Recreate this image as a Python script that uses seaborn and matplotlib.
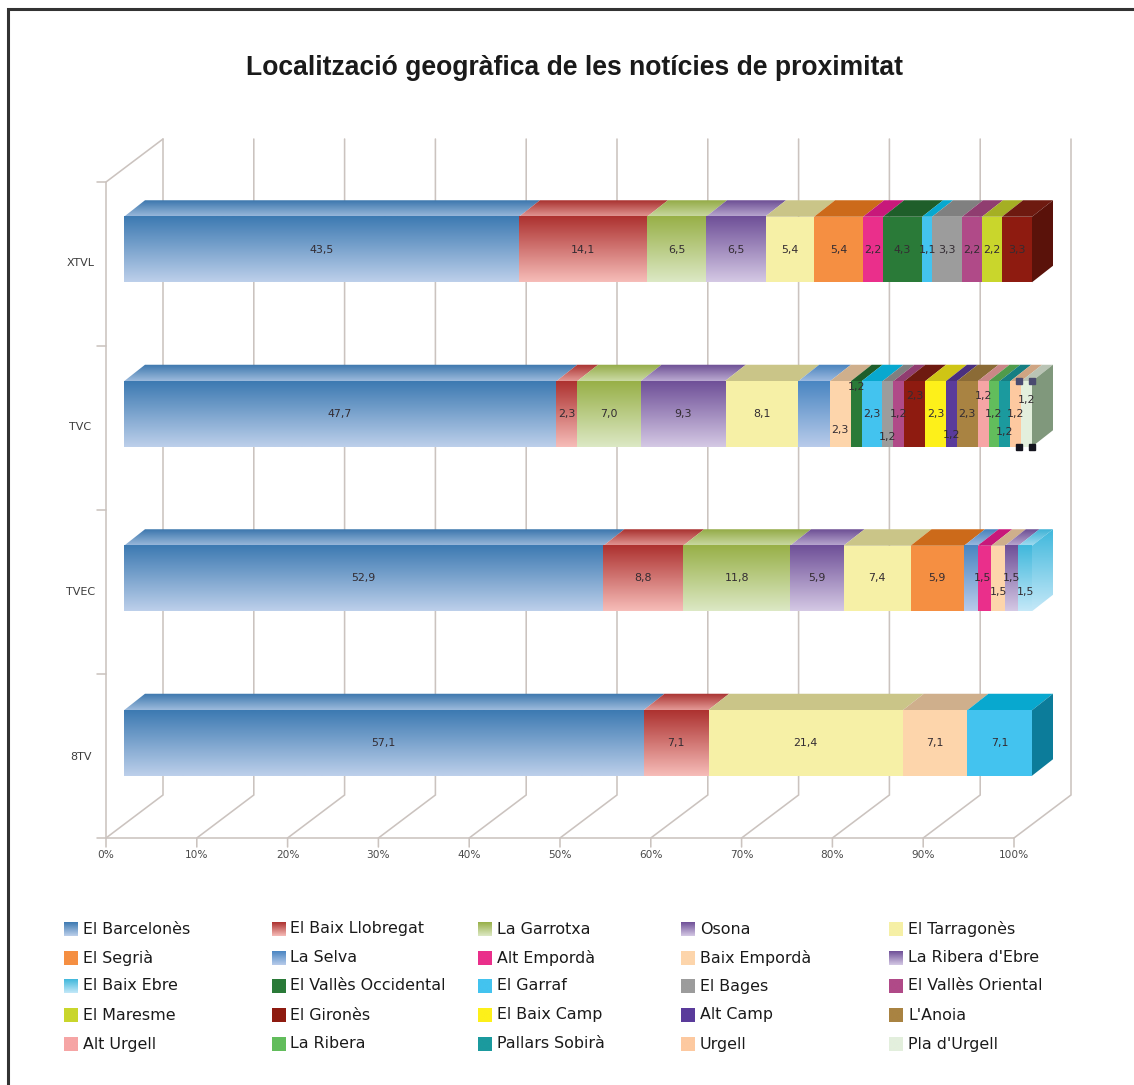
import numpy as np
import pandas as pd
import matplotlib
matplotlib.use("Agg")
import matplotlib.pyplot as plt
from matplotlib.colors import to_rgb
from matplotlib.patches import Polygon
import seaborn as sns

title = "Localització geogràfica de les notícies de proximitat"
channels = ["XTVL", "TVC", "TVEC", "8TV"]
comarques = ["El Barcelonès", "El Baix Llobregat", "La Garrotxa", "Osona", "El Tarragonès",
             "El Segrià", "La Selva", "Alt Empordà", "Baix Empordà", "La Ribera d'Ebre",
             "El Baix Ebre", "El Vallès Occidental", "El Garraf", "El Bages", "El Vallès Oriental",
             "El Maresme", "El Gironès", "El Baix Camp", "Alt Camp", "L'Anoia",
             "Alt Urgell", "La Ribera", "Pallars Sobirà", "Urgell", "Pla d'Urgell"]

xtvl_names = ["El Barcelonès", "El Baix Llobregat", "La Garrotxa", "Osona", "El Tarragonès", "El Segrià",
              "Alt Empordà", "El Vallès Occidental", "El Garraf", "El Bages", "El Vallès Oriental",
              "El Maresme", "El Gironès"]
xtvl_values = [43.5, 14.1, 6.5, 6.5, 5.4, 5.4, 2.2, 4.3, 1.1, 3.3, 2.2, 2.2, 3.3]

tvc_names = ["El Barcelonès", "El Baix Llobregat", "La Garrotxa", "Osona", "El Tarragonès", "La Selva",
             "Baix Empordà", "El Vallès Occidental", "El Garraf", "El Bages", "El Vallès Oriental",
             "El Gironès", "El Baix Camp", "Alt Camp", "L'Anoia", "Alt Urgell", "La Ribera",
             "Pallars Sobirà", "Urgell", "Pla d'Urgell"]
tvc_values = [47.7, 2.3, 7.0, 9.3, 8.1, 3.5, 2.3, 1.2, 2.3, 1.2, 1.2, 2.3, 2.3, 1.2, 2.3, 1.2, 1.2, 1.2, 1.2, 1.2]

tvec_names = ["El Barcelonès", "El Baix Llobregat", "La Garrotxa", "Osona", "El Tarragonès", "El Segrià",
              "La Selva", "Alt Empordà", "Baix Empordà", "La Ribera d'Ebre", "El Baix Ebre"]
tvec_values = [52.9, 8.8, 11.8, 5.9, 7.4, 5.9, 1.5, 1.5, 1.5, 1.5, 1.5]

b8tv_names = ["El Barcelonès", "El Baix Llobregat", "El Tarragonès", "Baix Empordà", "El Garraf"]
b8tv_values = [57.1, 7.1, 21.4, 7.1, 7.1]

unlabelled = [("TVC", "La Selva"), ("TVEC", "La Selva")]
label_shift = {  # pixels, staggered labels of the narrow segments
    ("TVC", "Baix Empordà"): 16, ("TVC", "El Vallès Occidental"): -27, ("TVC", "El Bages"): 23,
    ("TVC", "El Gironès"): -18, ("TVC", "Alt Camp"): 21, ("TVC", "Alt Urgell"): -18,
    ("TVC", "Pallars Sobirà"): 18, ("TVC", "Pla d'Urgell"): -14,
    ("TVEC", "Baix Empordà"): 14, ("TVEC", "El Baix Ebre"): 14,
}
label_dx = {("TVEC", "Alt Empordà"): -2}

# colour at the top of the face, colour at its bottom
colors = {
    "El Barcelonès": ("#3d7ab2", "#bccfea"), "El Baix Llobregat": ("#ad3230", "#f6bcb8"),
    "La Garrotxa": ("#98b048", "#dce8c4"), "Osona": ("#6f5098", "#d4c8e4"),
    "El Tarragonès": ("#f6f0a6", "#f6f0a6"), "El Segrià": ("#f58f42", "#f58f42"),
    "La Selva": ("#4a86c2", "#b8cbea"), "Alt Empordà": ("#ea2f8b", "#ea2f8b"),
    "Baix Empordà": ("#fdd5ab", "#fdd5ab"), "La Ribera d'Ebre": ("#6f5098", "#d4c8e4"),
    "El Baix Ebre": ("#40b8dc", "#c4e8f8"), "El Vallès Occidental": ("#2a7a38", "#2a7a38"),
    "El Garraf": ("#43c3ef", "#43c3ef"), "El Bages": ("#9c9c9c", "#9c9c9c"),
    "El Vallès Oriental": ("#b04a88", "#b04a88"), "El Maresme": ("#c9d62c", "#c9d62c"),
    "El Gironès": ("#8e1b10", "#8e1b10"), "El Baix Camp": ("#fdf01a", "#fdf01a"),
    "Alt Camp": ("#5a3b9b", "#5a3b9b"), "L'Anoia": ("#a98342", "#a98342"),
    "Alt Urgell": ("#f6a5a5", "#f6a5a5"), "La Ribera": ("#62bd5c", "#62bd5c"),
    "Pallars Sobirà": ("#1b9a9e", "#1b9a9e"), "Urgell": ("#fdc9a0", "#fdc9a0"),
    "Pla d'Urgell": ("#e3efdd", "#e3efdd"),
}
top_face = {"El Garraf": "#08a8cf", "El Segrià": "#cc6a1a", "Alt Empordà": "#c8187a",
            "El Vallès Occidental": "#1f5e2a", "El Gironès": "#6e1a10"}
side_face = {"El Garraf": "#0c7c9a", "El Gironès": "#5a120a", "Pla d'Urgell": "#80987c"}

rows = []
for ch, names, vals in zip(channels, [xtvl_names, tvc_names, tvec_names, b8tv_names],
                           [xtvl_values, tvc_values, tvec_values, b8tv_values]):
    c = np.cumsum(vals) / np.sum(vals) * 100  # a 100 % stacked chart
    for n, v, e in zip(names, vals, c):
        rows.append(dict(channel=ch, comarca=n, value=v, end=e))
df = pd.DataFrame(rows)
df["start"] = df.groupby("channel")["end"].shift(1).fillna(0)

sns.set_theme(style="white")
W, H = 1134, 1085
fig = plt.figure(figsize=(W / 100, H / 100), dpi=100, facecolor="white")
ax = fig.add_axes([0, 0, 1, 1])

# one percent = 9.08 px, channel spacing = 164.5 px; the axes cover the whole figure
PX_PCT, PX_CAT = 9.08, 164.5
X0, Y0 = 124.0, 249.5
def X(px): return (px - X0) / PX_PCT
def Y(py): return (py - Y0) / PX_CAT
xlim, ylim = (X(0), X(W)), (Y(H), Y(0))

BAR_H = 65.5 / PX_CAT
DX, DY = 21 / PX_PCT, 16.5 / PX_CAT

# front faces: cumulative widths, longest first so shorter ones lie on top
sns.barplot(data=df, y="channel", x="end", hue="comarca", order=channels,
            hue_order=comarques[::-1], palette={k: v[0] for k, v in colors.items()},
            dodge=False, width=BAR_H, orient="h", legend=False, ax=ax,
            saturation=1, linewidth=0, zorder=3)
ax.set_xlim(*xlim); ax.set_ylim(*ylim); ax.axis("off")
ax.autoscale(False)

def grad(c1, c2, extent, clip=None, z=3.2):
    a = np.linspace(to_rgb(c1), to_rgb(c2), 64)[:, None, :]
    im = ax.imshow(a, extent=extent, aspect="auto", origin="upper", interpolation="bilinear", zorder=z)
    if clip is not None:
        p = Polygon(clip, closed=True, fc="none", ec="none", zorder=z)
        ax.add_patch(p)
        im.set_clip_path(p)
    return im

def shade(c, f):
    return tuple(min(1, x * f) for x in to_rgb(c))

def mix(c1, c2, t):
    a, b = np.array(to_rgb(c1)), np.array(to_rgb(c2))
    return tuple(a + (b - a) * t)

# wall, floor and axis lines
GRID = "#cbc3bf"
LW = 1.15
for i, lab in enumerate(range(0, 101, 10)):
    fx = i * 10 * 9.08 + 106
    bx = fx + 57
    ax.plot([X(bx), X(bx), X(fx), X(fx)], [Y(139), Y(795), Y(838), Y(847)], color=GRID, lw=LW, zorder=1,
            solid_joinstyle="miter")
    ax.text(X(fx), Y(855), f"{lab}%", ha="center", va="center", fontsize=7.6, color="#4a4a4a",
            family="DejaVu Sans")
ax.plot([X(97), X(1014)], [Y(838), Y(838)], color=GRID, lw=LW, zorder=1)
ax.plot([X(106), X(106), X(163)], [Y(838), Y(182), Y(139)], color=GRID, lw=LW, zorder=1)
for py in [182, 346, 510, 674]:
    ax.plot([X(97), X(106)], [Y(py), Y(py)], color=GRID, lw=LW, zorder=1)

# gradients, depth faces, value labels
for i, ch in enumerate(channels):
    sub = df[df.channel == ch]
    top, bot = i - BAR_H / 2, i + BAR_H / 2
    for _, r in sub.iterrows():
        c1, c2 = colors[r.comarca]
        l, e = r.start, r.end
        if c1 != c2:
            grad(c1, c2, (l, e, bot, top))
        quad = [(l, top), (l + DX, top - DY), (e + DX, top - DY), (e, top)]
        if c1 != c2:
            grad(shade(c1, 0.97), mix(c1, c2, 0.75), (l, e + DX, top, top - DY), clip=quad, z=2.5)
        else:
            ax.add_patch(Polygon(quad, closed=True, fc=top_face.get(r.comarca, shade(c1, 0.82)),
                                 ec="none", zorder=2.5))
        key = (ch, r.comarca)
        if key not in unlabelled:
            ax.text((l + e) / 2 + label_dx.get(key, 0) / PX_PCT, i + label_shift.get(key, 0) / PX_CAT,
                    f"{r.value:.1f}".replace(".", ","), ha="center", va="center",
                    fontsize=7.9, color="#332c32", family="DejaVu Sans", zorder=6)
    last = sub.iloc[-1]
    e = last.end
    c1, c2 = colors[last.comarca]
    side = [(e, top), (e + DX, top - DY), (e + DX, bot - DY), (e, bot)]
    if c1 != c2:
        grad(c1, c2, (e, e + DX, bot, top - DY), clip=side, z=2.6)
    else:
        ax.add_patch(Polygon(side, closed=True, fc=side_face.get(last.comarca, shade(c1, 0.62)),
                             ec="none", zorder=2.6))
    ax.text(X(80.5), i + 13.5 / PX_CAT, ch, ha="center", va="center", fontsize=8, color="#3c3c3c",
            family="DejaVu Sans")

# selection handles left around the last TVC segment
sel = df[(df.channel == "TVC") & (df.comarca == "Pla d'Urgell")].iloc[0]
for hx in (sel.start - 2 / PX_PCT, sel.end):
    ax.plot([hx], [1 + BAR_H / 2], ls="none", marker="s", ms=4, color="#14141e", zorder=7)
    ax.plot([hx], [1 - BAR_H / 2], ls="none", marker="s", ms=4, color="#4a4a70", zorder=7)

# legend, five columns filled row by row
LEG_X = [64, 271.5, 478, 681, 889]
LEG_Y = [929, 958, 986, 1015, 1044]
for k, name in enumerate(comarques):
    row, col = divmod(k, 5)
    px, py = LEG_X[col], LEG_Y[row]
    c1, c2 = colors[name]
    grad(c1, c2, (X(px), X(px + 14), Y(py + 7), Y(py - 7)), z=4)
    ax.text(X(px + 19), Y(py), name, ha="left", va="center", fontsize=11.45, color="#1a1a1a",
            family="DejaVu Sans")

# title and page frame
ax.text(X(575), Y(68), title, ha="center", va="center", fontsize=19.1, fontweight="bold", color="#1a1a1a",
        family="Liberation Sans")
ax.plot([X(7.5), X(7.5), X(W + 5)], [Y(H + 5), Y(9), Y(9)], color="#333333", lw=2.2, zorder=8,
        solid_joinstyle="miter")

fig.savefig("out.png", dpi=100, facecolor="white")
